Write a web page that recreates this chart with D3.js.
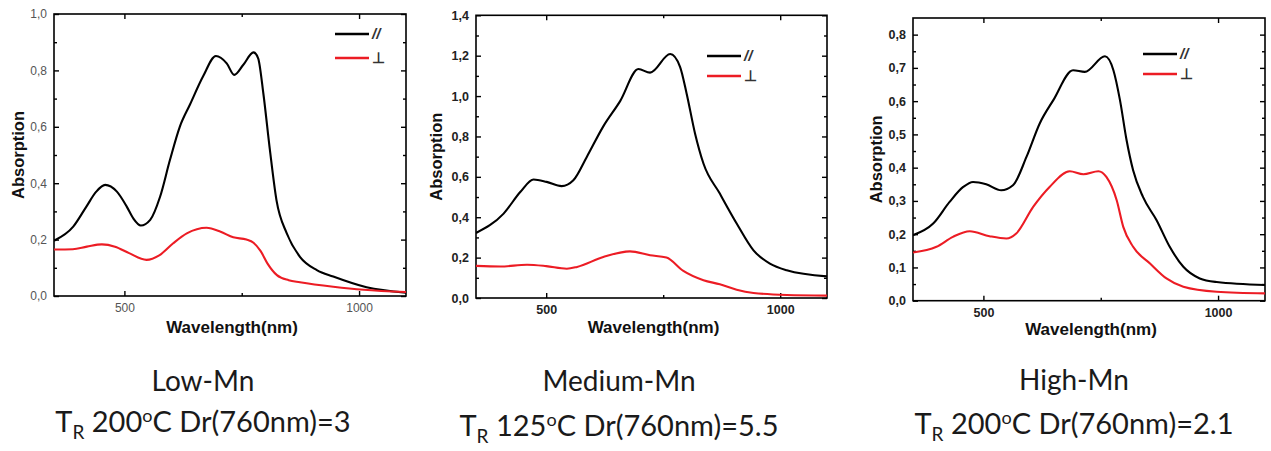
<!DOCTYPE html>
<html>
<head>
<meta charset="utf-8">
<script src="https://cdn.jsdelivr.net/npm/d3@7"></script>
<style>
  html, body { margin: 0; padding: 0; background: #fff; }
  svg { display: block; }
</style>
</head>
<body>
<svg id="chart" width="1271" height="451"></svg>
<script>
// ---------------- DATA ----------------
const xTickValues = [500, 1000];
const xMinorTickValues = [750];

// Panel 1: Low-Mn
const lowParNm   = [350, 391, 419, 440, 459, 484, 505, 519, 535, 555, 576, 597, 618, 640, 668, 695, 718, 734, 753, 775, 785, 796, 810, 824, 846, 874, 910, 945, 1016, 1100];
const lowParAbs  = [0.196, 0.246, 0.317, 0.370, 0.394, 0.370, 0.317, 0.275, 0.250, 0.270, 0.352, 0.482, 0.600, 0.680, 0.780, 0.851, 0.825, 0.784, 0.819, 0.864, 0.843, 0.719, 0.518, 0.340, 0.222, 0.139, 0.092, 0.069, 0.031, 0.012];
const lowPerpNm  = [350, 390, 420, 452, 480, 510, 547, 575, 604, 633, 675, 705, 732, 760, 775, 790, 805, 825, 850, 874, 945, 1010, 1100];
const lowPerpAbs = [0.165, 0.166, 0.175, 0.183, 0.175, 0.152, 0.128, 0.145, 0.187, 0.222, 0.242, 0.228, 0.208, 0.200, 0.189, 0.160, 0.115, 0.074, 0.056, 0.049, 0.033, 0.022, 0.014];
const lowYTicks  = [0, 0.2, 0.4, 0.6, 0.8, 1.0];
const lowYMinor  = [0.1, 0.3, 0.5, 0.7, 0.9];

// Panel 2: Medium-Mn
const medParNm   = [350, 409, 445, 473, 501, 533, 558, 587, 622, 658, 697, 722, 765, 786, 800, 818, 836, 871, 907, 943, 978, 1014, 1100];
const medParAbs  = [0.322, 0.418, 0.526, 0.587, 0.575, 0.554, 0.583, 0.700, 0.850, 0.975, 1.134, 1.116, 1.208, 1.145, 1.013, 0.815, 0.666, 0.517, 0.369, 0.236, 0.170, 0.137, 0.107];
const medPerpNm  = [350, 402, 459, 500, 544, 566, 622, 679, 722, 757, 793, 836, 871, 907, 943, 1014, 1100];
const medPerpAbs = [0.159, 0.156, 0.165, 0.158, 0.145, 0.154, 0.203, 0.231, 0.212, 0.200, 0.134, 0.088, 0.068, 0.041, 0.025, 0.015, 0.012];
const medYTicks  = [0, 0.2, 0.4, 0.6, 0.8, 1.0, 1.2, 1.4];
const medYMinor  = [0.1, 0.3, 0.5, 0.7, 0.9, 1.1, 1.3];

// Panel 3: High-Mn
const highParNm   = [350, 393, 428, 457, 478, 506, 538, 563, 592, 620, 649, 691, 716, 759, 777, 791, 805, 819, 840, 869, 897, 926, 961, 997, 1100];
const highParAbs  = [0.197, 0.232, 0.297, 0.342, 0.357, 0.350, 0.332, 0.347, 0.433, 0.533, 0.603, 0.693, 0.688, 0.735, 0.693, 0.603, 0.483, 0.392, 0.312, 0.242, 0.162, 0.102, 0.067, 0.056, 0.047];
const highPerpNm  = [350, 400, 435, 471, 513, 549, 570, 606, 641, 684, 713, 745, 762, 784, 798, 819, 855, 890, 926, 997, 1100];
const highPerpAbs = [0.145, 0.162, 0.192, 0.209, 0.194, 0.187, 0.202, 0.282, 0.342, 0.389, 0.380, 0.389, 0.372, 0.302, 0.222, 0.162, 0.112, 0.067, 0.042, 0.027, 0.022];
const highYTicks  = [0, 0.1, 0.2, 0.3, 0.4, 0.5, 0.6, 0.7, 0.8];
const highYMinor  = [0.05, 0.15, 0.25, 0.35, 0.45, 0.55, 0.65, 0.75];

const legendLabels = ["//", "\u22A5"];
const xAxisTitle = "Wavelength(nm)";
const yAxisTitle = "Absorption";

// caption texts: [title, temperature, Dr value]
const captionTitles = ["Low-Mn", "Medium-Mn", "High-Mn"];
const captionTemps  = ["200", "125", "200"];
const captionDr     = ["3", "5.5", "2.1"];

// ---------------- LAYOUT / STYLE ----------------
const RED = "#ec1c24";
const panels = [
  { L: 54,  R: 406,  T: 14,   B: 296,   yMax: 1.0,  yT: lowYTicks,  yM: lowYMinor,
    par: [lowParNm, lowParAbs], perp: [lowPerpNm, lowPerpAbs],
    bold: false, tickColor: "#555", tickSize: 12,
    legX: 335, legY: 34, legGap: 24, yTitleX: 18, xTitleY: 333,
    capX: 203, cap1Y: 391, cap2Y: 432 },
  { L: 476, R: 827,  T: 15.3, B: 298,   yMax: 1.4,  yT: medYTicks,  yM: medYMinor,
    par: [medParNm, medParAbs], perp: [medPerpNm, medPerpAbs],
    bold: true, tickColor: "#222", tickSize: 12.5,
    legX: 707, legY: 56, legGap: 20, yTitleX: 436, xTitleY: 333,
    capX: 619, cap1Y: 391, cap2Y: 436 },
  { L: 913, R: 1265, T: 18,   B: 300.7, yMax: 0.85, yT: highYTicks, yM: highYMinor,
    par: [highParNm, highParAbs], perp: [highPerpNm, highPerpAbs],
    bold: true, tickColor: "#222", tickSize: 12.5,
    legX: 1143, legY: 54, legGap: 20, yTitleX: 876, xTitleY: 335,
    capX: 1074, cap1Y: 390, cap2Y: 434 }
];

const svg = d3.select("#chart");
const fmt = d => d3.format(".1f")(d).replace(".", ",");

panels.forEach((p, i) => {
  const x = d3.scaleLinear().domain([350, 1100]).range([p.L, p.R]);
  const y = d3.scaleLinear().domain([0, p.yMax]).range([p.B, p.T]);
  const g = svg.append("g");
  const clipId = "clip" + i;
  svg.append("clipPath").attr("id", clipId).append("rect")
    .attr("x", p.L).attr("y", p.T).attr("width", p.R - p.L).attr("height", p.B - p.T);

  const styleAxis = (sel) => {
    sel.select(".domain").remove();
    sel.selectAll("line").attr("stroke", "#000").attr("stroke-width", 1.4);
    sel.selectAll("text")
      .attr("font-family", "'Liberation Sans', Arial, sans-serif")
      .attr("font-size", p.tickSize)
      .attr("font-weight", p.bold ? "bold" : "normal")
      .attr("fill", p.tickColor);
  };

  // bottom
  g.append("g").attr("transform", `translate(0,${p.B})`)
    .call(d3.axisBottom(x).tickValues(xTickValues).tickSize(-5).tickPadding(7).tickFormat(d3.format("d")))
    .call(styleAxis);
  g.append("g").attr("transform", `translate(0,${p.B})`)
    .call(d3.axisBottom(x).tickValues(xMinorTickValues).tickSize(-3).tickFormat(""))
    .call(styleAxis);
  // top
  g.append("g").attr("transform", `translate(0,${p.T})`)
    .call(d3.axisTop(x).tickValues(xTickValues).tickSize(-5).tickFormat(""))
    .call(styleAxis);
  g.append("g").attr("transform", `translate(0,${p.T})`)
    .call(d3.axisTop(x).tickValues(xMinorTickValues).tickSize(-3).tickFormat(""))
    .call(styleAxis);
  // left
  g.append("g").attr("transform", `translate(${p.L},0)`)
    .call(d3.axisLeft(y).tickValues(p.yT).tickSize(-5).tickPadding(7).tickFormat(fmt))
    .call(styleAxis);
  g.append("g").attr("transform", `translate(${p.L},0)`)
    .call(d3.axisLeft(y).tickValues(p.yM).tickSize(-3).tickFormat(""))
    .call(styleAxis);
  // right
  g.append("g").attr("transform", `translate(${p.R},0)`)
    .call(d3.axisRight(y).tickValues(p.yT).tickSize(-5).tickFormat(""))
    .call(styleAxis);
  g.append("g").attr("transform", `translate(${p.R},0)`)
    .call(d3.axisRight(y).tickValues(p.yM).tickSize(-3).tickFormat(""))
    .call(styleAxis);

  // frame
  g.append("rect").attr("x", p.L).attr("y", p.T)
    .attr("width", p.R - p.L).attr("height", p.B - p.T)
    .attr("fill", "none").attr("stroke", "#000").attr("stroke-width", 1.6);

  // curves
  const line = d3.line().x(d => x(d[0])).y(d => y(d[1])).curve(d3.curveMonotoneX);
  const series = [
    { d: p.par[0].map((v, k) => [v, p.par[1][k]]), c: "#000" },
    { d: p.perp[0].map((v, k) => [v, p.perp[1][k]]), c: RED }
  ];
  series.forEach(s => {
    g.append("path").attr("d", line(s.d)).attr("fill", "none")
      .attr("stroke", s.c).attr("stroke-width", 2.1).attr("clip-path", `url(#${clipId})`);
  });

  // legend
  [ "#000", RED ].forEach((c, k) => {
    const ly = p.legY + k * p.legGap;
    g.append("line").attr("x1", p.legX).attr("x2", p.legX + 34)
      .attr("y1", ly).attr("y2", ly).attr("stroke", c).attr("stroke-width", 2.5);
    g.append("text").attr("x", p.legX + 37).attr("y", ly + 5)
      .attr("font-family", "'Liberation Sans', Arial, sans-serif")
      .attr("font-size", 15).attr("font-weight", "bold")
      .attr("font-style", k === 0 ? "italic" : "normal")
      .attr("fill", "#333").text(legendLabels[k]);
  });

  // axis titles
  g.append("text").attr("x", (p.L + p.R) / 2 + 2).attr("y", p.xTitleY)
    .attr("text-anchor", "middle")
    .attr("font-family", "'Liberation Sans', Arial, sans-serif")
    .attr("font-size", 17).attr("font-weight", "bold").attr("fill", "#111")
    .text(xAxisTitle);
  g.append("text")
    .attr("transform", `translate(${p.yTitleX + 6},${(p.T + p.B) / 2}) rotate(-90)`)
    .attr("text-anchor", "middle")
    .attr("font-family", "'Liberation Sans', Arial, sans-serif")
    .attr("font-size", 16.5).attr("font-weight", "bold").attr("fill", "#111")
    .text(yAxisTitle);

  // captions
  const capFont = "Lato, 'Open Sans', sans-serif";
  svg.append("text").attr("x", p.capX).attr("y", p.cap1Y)
    .attr("text-anchor", "middle").attr("font-family", capFont)
    .attr("font-size", 28).attr("fill", "#1a1a1a").text(captionTitles[i]);
  const t2 = svg.append("text").attr("x", p.capX).attr("y", p.cap2Y)
    .attr("text-anchor", "middle").attr("font-family", capFont)
    .attr("font-size", 29).attr("fill", "#1a1a1a");
  t2.append("tspan").text("T");
  t2.append("tspan").attr("font-size", 19).attr("dy", 7).text("R");
  t2.append("tspan").attr("dy", -7).text(" " + captionTemps[i]);
  t2.append("tspan").attr("font-size", 18).attr("dy", -10).text("o");
  t2.append("tspan").attr("dy", 10).text("C Dr(760nm)=" + captionDr[i]);
});
</script>
</body>
</html>
